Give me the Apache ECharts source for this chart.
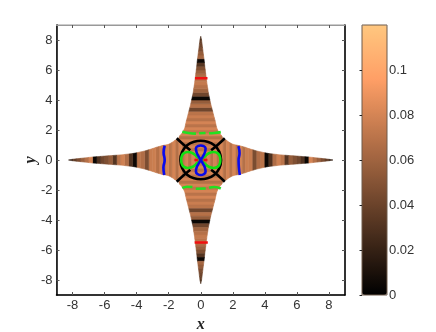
<!DOCTYPE html>
<html><head><meta charset="utf-8">
<style>html,body{margin:0;padding:0;background:#fff}#c{width:436px;height:332px}</style>
<script src="https://cdn.jsdelivr.net/npm/echarts@6/dist/echarts.min.js"></script>
</head><body><div id="c"></div>
<script>
const xTicks=[-8,-6,-4,-2,0,2,4,6,8];
const yTicks=[-8,-6,-4,-2,0,2,4,6,8];
const cbTicks=[0,0.02,0.04,0.06,0.08,0.1];
const radiusEdges=[0,.2,.4,.6,.8,1,1.2,1.4,1.6,1.8,2,2.2,2.4,2.6,2.8,3,3.25,3.5,3.75,4,4.25,4.5,4.75,5,5.25,5.5,5.75,6,6.25,6.5,6.75,7,7.25,7.5,7.75,8,8.25];
const halfWidths=[0,.2,.4,.6,.8,1,1.2,1.4,1.32,1.16,1.05,.98,.94,.9,.85,.8,.74,.68,.62,.57,.52,.47,.44,.4,.37,.34,.31,.28,.25,.23,.2,.17,.14,.11,.08,.05,0];
const halfHeights=[0,.2,.4,.6,.8,1,1.2,1.4,1.32,1.16,1.05,1,.96,.9,.84,.76,.68,.6,.54,.48,.43,.4,.37,.34,.32,.3,.28,.26,.24,.22,.2,.17,.14,.11,.08,.05,0];
const verticalArmValues=[.08,.074,.082,.07,.08,.07,.08,.068,.08,.072,.08,.07,.08,.069,.076,.07,.042,.068,.056,.004,.042,.06,.068,.074,.07,.066,.058,.048,.032,.005,.062,.056,.047,.042,.038,.028];
const horizontalArmValues=[.08,.073,.081,.069,.08,.07,.081,.068,.08,.07,.081,.069,.079,.068,.077,.075,.046,.066,.07,.005,.03,.066,.078,.07,.032,.056,.048,.042,.03,.004,.08,.068,.058,.047,.037,.02];
const greenLemniscate=[[0,0],[.25,.24],[.5,.45],[.8,.53],[1.07,.44],[1.2,.2],[1.22,0],[1.2,-.2],[1.07,-.44],[.8,-.53],[.5,-.45],[.25,-.24],[0,0],[-.25,.24],[-.5,.45],[-.8,.53],[-1.07,.44],[-1.2,.2],[-1.22,0],[-1.2,-.2],[-1.07,-.44],[-.8,-.53],[-.5,-.45],[-.25,-.24],[0,0]];
const blueLemniscate=[[0,0],[.14,.25],[.27,.55],[.3,.78],[.18,.93],[0,.97],[-.18,.93],[-.3,.78],[-.27,.55],[-.14,.25],[0,0],[.14,-.25],[.27,-.55],[.3,-.78],[.18,-.95],[0,-1],[-.18,-.95],[-.3,-.78],[-.27,-.55],[-.14,-.25],[0,0]];
const blackLoop=[[1.27,0],[1.16,.55],[.85,.98],[.42,1.22],[0,1.28],[-.42,1.22],[-.85,.98],[-1.16,.55],[-1.27,0],[-1.16,-.55],[-.85,-.98],[-.42,-1.22],[0,-1.28],[.42,-1.22],[.85,-.98],[1.16,-.55],[1.27,0]];
const blackDiagonalA=[[-1.5,1.45],[-1.1,1.05],[-.65,.65]];
const blackDiagonalB=[[1.5,1.45],[1.1,1.05],[.65,.65]];
const blackDiagonalC=[[-1.5,-1.45],[-1.1,-1.05],[-.65,-.65]];
const blackDiagonalD=[[1.5,-1.45],[1.1,-1.05],[.65,-.65]];
const greenTopA=[[-1.15,1.88],[-.75,1.8],[-.3,1.76]];
const greenTopB=[[-.1,1.78],[.3,1.8]];
const greenTopC=[[.52,1.78],[.85,1.8],[1.25,1.86]];
const greenBottomA=[[-1.15,-1.88],[-.85,-1.78],[-.52,-1.8]];
const greenBottomB=[[-.31,-1.92],[.31,-1.9]];
const greenBottomC=[[.52,-1.85],[.85,-1.8],[1.25,-1.9]];
const blueLeft=[[-2.25,.95],[-2.32,.5],[-2.25,0],[-2.33,-.5],[-2.28,-1]];
const blueRight=[[2.35,.93],[2.42,.45],[2.36,0],[2.38,-.5],[2.44,-1]];
const redTop=[[-.36,5.45],[.42,5.45]];
const redBottom=[[-.38,-5.5],[.44,-5.5]];
const redCentreLeft=[[-.4,0],[-.16,0]];
const redCentreRight=[[.16,0],[.42,0]];
const copperStops=['#000000','#402819','#805033','#bf774c','#ff9f66','#ffc77f'];

const strips=[];
for(let i=0;i<verticalArmValues.length;i++){
  [1,-1].forEach(s=>{
    strips.push([radiusEdges[i],radiusEdges[i+1],halfWidths[i],halfWidths[i+1],verticalArmValues[i],0,s]);
    strips.push([radiusEdges[i],radiusEdges[i+1],halfHeights[i],halfHeights[i+1],horizontalArmValues[i],1,s]);
  });
}
const curveStyles=[
 [blackLoop,'#000',true],[blackDiagonalA,'#000',true],[blackDiagonalB,'#000',true],[blackDiagonalC,'#000',true],[blackDiagonalD,'#000',true],
 [greenLemniscate,'#12e012',true],[blueLemniscate,'#0808e8',true],
 [greenTopA,'#22e022',true],[greenTopB,'#22e022',true],[greenTopC,'#22e022',true],
 [greenBottomA,'#22e022',true],[greenBottomB,'#22e022',true],[greenBottomC,'#22e022',true],
 [blueLeft,'#0a0aee',true],[blueRight,'#0a0aee',true],
 [redTop,'#f01010',false],[redBottom,'#f01010',false],[redCentreLeft,'#f01010',false],[redCentreRight,'#f01010',false]
];
const font='"Liberation Sans",Arial,sans-serif';
const tickStyle={color:'#555',width:1};
const nameFont={fontFamily:'"Liberation Serif",serif',fontStyle:'italic',fontWeight:'bold',fontSize:16,color:'#222'};
function axisBase(ticks,extra){
  return Object.assign({type:'value',min:-9,max:9,splitLine:{show:false},
    axisLine:{onZero:false,lineStyle:{color:'#000',width:1.5}},
    axisTick:{inside:true,length:3,lineStyle:tickStyle,customValues:ticks},
    axisLabel:{customValues:ticks,color:'#333',fontSize:13,fontFamily:font,margin:4}},extra);
}
const hiddenLabel={show:false};
const option={
  animation:false,backgroundColor:'#fff',
  grid:[
    {left:56.5,top:25,width:288.5,height:270,show:true,borderColor:'#999',borderWidth:1,backgroundColor:'transparent',outerBoundsMode:'none'},
    {left:362,top:25,width:25,height:270,show:true,borderColor:'#6e5a4a',borderWidth:1,backgroundColor:'transparent',z:6,outerBoundsMode:'none'}
  ],
  xAxis:[
    axisBase(xTicks,{gridIndex:0,position:'bottom',name:'x',nameLocation:'middle',nameGap:22,nameMoveOverlap:false,nameTextStyle:nameFont}),
    axisBase(xTicks,{gridIndex:0,position:'top',axisLine:{onZero:false,lineStyle:{color:'#999',width:1}},axisLabel:hiddenLabel}),
    {type:'value',gridIndex:1,min:0,max:1,show:false}
  ],
  yAxis:[
    axisBase(yTicks,{gridIndex:0,position:'left',name:'y',nameLocation:'middle',nameGap:17.5,nameRotate:90,nameMoveOverlap:false,nameTextStyle:nameFont}),
    axisBase(yTicks,{gridIndex:0,position:'right',axisLabel:hiddenLabel}),
    {type:'value',gridIndex:1,position:'right',min:0,max:0.12,z:7,splitLine:{show:false},
      axisLine:{show:false},
      axisTick:{inside:true,length:2.5,lineStyle:{color:'#222'},customValues:cbTicks},
      axisLabel:{customValues:cbTicks,color:'#333',fontSize:13,fontFamily:font,margin:2}}
  ],
  visualMap:{type:'continuous',seriesIndex:0,dimension:4,min:0,max:0.12,left:362,top:25,itemWidth:25,itemHeight:270,padding:0,
    calculable:false,hoverLink:false,showLabel:false,text:null,inRange:{color:copperStops},z:4},
  series:[
    {type:'custom',coordinateSystem:'cartesian2d',xAxisIndex:0,yAxisIndex:0,data:strips,
     encode:{x:0,y:1},
     renderItem:function(p,api){
       const r0=api.value(0),r1=api.value(1),w0=api.value(2),w1=api.value(3),o=api.value(5),s=api.value(6);
       const pts=o===0?[[-w0,s*r0],[w0,s*r0],[w1,s*r1],[-w1,s*r1]]:[[s*r0,-w0],[s*r0,w0],[s*r1,w1],[s*r1,-w1]];
       const c=api.visual('color');
       return {type:'polygon',shape:{points:pts.map(q=>api.coord(q))},style:{fill:c,stroke:c,lineWidth:.6}};
     }},
    ...curveStyles.map(([d,col,sm])=>({type:'line',xAxisIndex:0,yAxisIndex:0,data:d,showSymbol:false,smooth:sm,clip:true,z:3,
      lineStyle:{color:col,width:2.6},silent:true}))
  ]
};
echarts.init(document.getElementById('c'),null,{renderer:'canvas'}).setOption(option);
</script>
</body></html>
